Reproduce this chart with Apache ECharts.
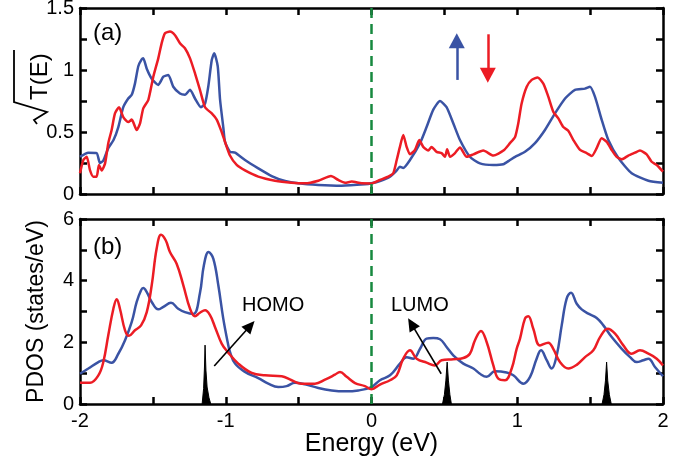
<!DOCTYPE html>
<html>
<head>
<meta charset="utf-8">
<script src="https://cdn.jsdelivr.net/npm/echarts@6/dist/echarts.min.js"></script>
<style>
  html, body { margin: 0; padding: 0; background: #fff; }
  #chart { width: 690px; height: 459px; }
</style>
</head>
<body>
<div id="chart"></div>
<script>
// (a) sqrt T(E), spin up (blue) / spin down (red)
const topBlue = [
  [-2.0,0.30],[-1.943,0.333],[-1.886,0.33],[-1.863,0.25],[-1.84,0.27],[-1.806,0.37],[-1.77,0.435],
  [-1.737,0.54],[-1.703,0.70],[-1.669,0.77],[-1.645,0.80],[-1.623,0.89],[-1.60,1.03],[-1.577,1.085],
  [-1.566,1.094],[-1.542,1.01],[-1.508,0.93],[-1.463,0.88],[-1.428,0.946],[-1.394,0.96],[-1.36,0.865],
  [-1.314,0.81],[-1.28,0.80],[-1.245,0.84],[-1.211,0.77],[-1.17,0.70],[-1.142,0.73],[-1.12,0.865],
  [-1.096,1.08],[-1.079,1.135],[-1.055,1.03],[-1.039,0.76],[-1.017,0.54],[-1.005,0.42],[-0.971,0.34],
  [-0.936,0.333],[-0.868,0.274],[-0.777,0.207],[-0.685,0.145],[-0.593,0.105],[-0.502,0.086],
  [-0.365,0.073],[-0.205,0.067],[-0.045,0.078],[0.0,0.086],[0.058,0.105],[0.127,0.14],[0.173,0.19],
  [0.195,0.22],[0.218,0.21],[0.264,0.274],[0.333,0.41],[0.378,0.54],[0.424,0.68],[0.47,0.75],
  [0.515,0.70],[0.561,0.57],[0.607,0.435],[0.675,0.30],[0.744,0.247],[0.835,0.234],[0.904,0.24],
  [0.95,0.274],[0.985,0.30],[1.053,0.34],[1.122,0.41],[1.19,0.516],[1.259,0.65],[1.328,0.77],
  [1.396,0.84],[1.465,0.85],[1.499,0.865],[1.533,0.785],[1.579,0.60],[1.625,0.435],[1.694,0.29],
  [1.785,0.167],[1.90,0.107],[2.0,0.09]
];
const topRed = [
  [-2.0,0.167],[-1.977,0.274],[-1.954,0.30],[-1.931,0.19],[-1.909,0.14],[-1.886,0.14],[-1.87,0.234],
  [-1.851,0.19],[-1.828,0.247],[-1.806,0.41],[-1.783,0.516],[-1.76,0.65],[-1.732,0.70],[-1.703,0.62],
  [-1.669,0.58],[-1.645,0.60],[-1.611,0.516],[-1.588,0.57],[-1.566,0.69],[-1.531,0.76],[-1.497,0.946],
  [-1.463,1.094],[-1.44,1.215],[-1.417,1.296],[-1.383,1.31],[-1.348,1.28],[-1.314,1.215],[-1.28,1.175],
  [-1.245,1.094],[-1.211,0.973],[-1.177,0.84],[-1.142,0.70],[-1.096,0.65],[-1.062,0.60],[-1.028,0.50],
  [-1.005,0.42],[-0.971,0.31],[-0.925,0.234],[-0.868,0.19],[-0.777,0.14],[-0.662,0.107],[-0.548,0.091],
  [-0.456,0.086],[-0.365,0.107],[-0.278,0.145],[-0.228,0.113],[-0.182,0.091],[-0.136,0.10],
  [-0.067,0.086],[0.0,0.085],[0.058,0.113],[0.115,0.14],[0.149,0.167],[0.173,0.274],[0.195,0.38],
  [0.218,0.476],[0.241,0.38],[0.264,0.32],[0.298,0.355],[0.328,0.435],[0.355,0.38],[0.389,0.35],
  [0.412,0.38],[0.447,0.34],[0.481,0.33],[0.504,0.30],[0.519,0.36],[0.539,0.30],[0.573,0.33],
  [0.607,0.376],[0.653,0.30],[0.699,0.32],[0.767,0.35],[0.836,0.31],[0.905,0.35],[0.95,0.41],
  [0.985,0.46],[1.007,0.57],[1.03,0.73],[1.065,0.865],[1.099,0.92],[1.14,0.94],[1.179,0.89],
  [1.213,0.785],[1.247,0.664],[1.282,0.61],[1.316,0.54],[1.35,0.51],[1.385,0.435],[1.431,0.355],
  [1.476,0.33],[1.511,0.306],[1.545,0.37],[1.579,0.45],[1.614,0.42],[1.648,0.355],[1.682,0.30],
  [1.717,0.28],[1.762,0.31],[1.808,0.333],[1.842,0.35],[1.888,0.32],[1.922,0.26],[1.957,0.234],[2.0,0.18]
];

// (b) PDOS
const botBlue = [
  [-2.0,0.98],[-1.943,1.15],[-1.874,1.36],[-1.84,1.42],[-1.783,1.34],[-1.737,1.63],[-1.691,2.07],
  [-1.645,2.66],[-1.611,3.31],[-1.581,3.69],[-1.566,3.76],[-1.542,3.63],[-1.508,3.31],[-1.463,3.07],
  [-1.428,3.15],[-1.376,3.28],[-1.326,3.09],[-1.28,2.98],[-1.222,2.92],[-1.177,3.6],[-1.15,4.5],
  [-1.118,4.93],[-1.085,4.71],[-1.051,3.85],[-1.017,2.77],[-0.987,2.01],[-0.971,1.69],[-0.936,1.31],
  [-0.868,1.04],[-0.777,0.84],[-0.708,0.66],[-0.64,0.55],[-0.582,0.58],[-0.525,0.69],[-0.456,0.64],
  [-0.365,0.52],[-0.273,0.44],[-0.182,0.41],[-0.09,0.44],[0.0,0.55],[0.058,0.77],[0.127,0.93],
  [0.195,1.31],[0.241,1.52],[0.287,1.47],[0.333,1.79],[0.378,2.12],[0.424,2.14],[0.47,2.10],
  [0.515,1.85],[0.561,1.58],[0.63,1.31],[0.699,1.15],[0.744,0.98],[0.79,0.88],[0.847,1.06],
  [0.927,1.02],[0.973,0.93],[1.042,0.66],[1.088,0.88],[1.133,1.47],[1.163,1.74],[1.202,1.42],
  [1.236,1.15],[1.271,1.58],[1.305,2.55],[1.339,3.42],[1.369,3.61],[1.408,3.25],[1.442,3.07],
  [1.488,2.93],[1.545,2.79],[1.591,2.55],[1.648,2.17],[1.717,1.79],[1.774,1.52],[1.82,1.36],
  [1.865,1.42],[1.9,1.47],[1.945,1.20],[2.0,0.90]
];
const botRed = [
  [-2.0,0.69],[-1.931,0.69],[-1.874,0.93],[-1.84,1.36],[-1.806,2.23],[-1.771,3.09],[-1.748,3.40],
  [-1.726,3.09],[-1.691,2.39],[-1.664,2.21],[-1.623,2.39],[-1.581,2.55],[-1.542,2.98],[-1.508,3.85],
  [-1.474,5.04],[-1.444,5.49],[-1.412,5.31],[-1.383,4.93],[-1.337,4.55],[-1.291,3.85],[-1.245,3.09],
  [-1.211,2.85],[-1.177,2.96],[-1.142,3.04],[-1.108,2.88],[-1.074,2.50],[-1.028,1.96],[-0.987,1.69],
  [-0.914,1.31],[-0.822,1.01],[-0.731,0.93],[-0.616,0.90],[-0.548,0.77],[-0.479,0.66],[-0.388,0.66],
  [-0.319,0.79],[-0.251,0.95],[-0.216,1.04],[-0.17,0.88],[-0.113,0.68],[-0.045,0.58],[0.0,0.48],
  [0.058,0.63],[0.127,0.77],[0.173,0.93],[0.218,1.47],[0.264,1.74],[0.31,1.47],[0.378,1.34],
  [0.435,1.25],[0.481,1.42],[0.561,1.45],[0.63,1.49],[0.675,1.63],[0.71,2.07],[0.751,2.37],
  [0.79,2.01],[0.836,1.25],[0.87,0.82],[0.916,0.77],[0.962,1.15],[0.996,1.79],[1.019,2.12],
  [1.053,2.77],[1.076,2.85],[1.11,2.44],[1.156,1.90],[1.213,1.99],[1.247,1.79],[1.293,1.36],
  [1.35,1.15],[1.408,1.27],[1.465,1.52],[1.522,1.74],[1.568,2.17],[1.621,2.44],[1.671,2.28],
  [1.728,1.90],[1.785,1.63],[1.842,1.74],[1.9,1.63],[1.957,1.47],[2.0,1.25]
];

// black molecular level peaks
const peakHomo = [[-1.162,0],[-1.152,0.5],[-1.146,1.2],[-1.142,1.91],[-1.136,1.1],[-1.128,0.55],[-1.115,0.2],[-1.103,0]];
const peakLumo = [[0.487,0],[0.500,0.3],[0.510,0.75],[0.519,1.36],[0.528,0.75],[0.538,0.3],[0.548,0]];
const peakHigh = [[1.582,0],[1.595,0.3],[1.605,0.75],[1.613,1.36],[1.621,0.75],[1.632,0.3],[1.645,0]];

const xTicks = [-2, -1, 0, 1, 2];

const BLUE = '#3a53a4';
const RED = '#ec1c24';
const GREEN = '#17893f';
const FONT = 'Liberation Sans, Arial, Helvetica, sans-serif';

const isMult = (v, m) => Math.abs(v / m - Math.round(v / m)) < 1e-6;

function xAxisOf(grid, pos, showLabel, name) {
  return {
    type: 'value', gridIndex: grid, position: pos, min: -2, max: 2, interval: 0.5,
    axisLine: { show: true, onZero: false, lineStyle: { color: '#000', width: 2.5 } },
    axisTick: { show: true, inside: true, length: 7, lineStyle: { color: '#000', width: 2.5 } },
    splitLine: { show: false },
    axisLabel: {
      show: showLabel, color: '#000', fontSize: 20, fontFamily: FONT, margin: 7,
      formatter: v => (xTicks.some(t => Math.abs(t - v) < 1e-6) ? String(Math.round(v)) : '')
    },
    name: name || '', nameLocation: 'middle', nameGap: 22,
    nameTextStyle: { color: '#000', fontSize: 25, fontFamily: FONT }
  };
}

function yAxisOf(grid, pos, max, step, labelStep, name) {
  return {
    type: 'value', gridIndex: grid, position: pos, min: 0, max: max, interval: step,
    axisLine: { show: true, onZero: false, lineStyle: { color: '#000', width: 2.5 } },
    axisTick: { show: true, inside: true, length: 7, lineStyle: { color: '#000', width: 2.5 } },
    splitLine: { show: false },
    axisLabel: {
      show: pos === 'left', color: '#000', fontSize: 20, fontFamily: FONT, margin: 6,
      formatter: v => (isMult(v, labelStep) ? String(Math.round(v * 10) / 10) : '')
    },
    name: name || '', nameLocation: 'middle', nameGap: 32,
    nameTextStyle: { color: '#000', fontSize: 23, fontFamily: FONT }
  };
}

function curve(data, color, xi, yi, smooth, markLine) {
  const s = {
    type: 'line', data: data, xAxisIndex: xi, yAxisIndex: yi,
    showSymbol: false, symbol: 'none', smooth: smooth,
    lineStyle: { color: color, width: 2.5 }, itemStyle: { color: color },
    silent: true
  };
  if (markLine) s.markLine = markLine;
  return s;
}

function peak(data) {
  return {
    type: 'line', data: data, xAxisIndex: 2, yAxisIndex: 2, showSymbol: false, symbol: 'none',
    lineStyle: { color: '#000', width: 1 }, areaStyle: { color: '#000', opacity: 1 }, silent: true, z: 3
  };
}

const zeroLine = {
  xAxis: 0, symbol: 'none',
  lineStyle: { color: GREEN, width: 2.5, type: [10, 6] }
};

function arrow(from, to, color, width, size) {
  return [
    { coord: from, symbol: 'none', lineStyle: { color: color, width: width, type: 'solid' } },
    { coord: to, symbol: 'triangle', symbolSize: size }
  ];
}

const markBase = { silent: true, animation: false, symbol: ['none', 'none'], label: { show: false } };

// sqrt(T(E)) axis title: rotated text with a drawn radical and overline
const sqrtTitle = {
  type: 'group', x: 47, y: 131, rotation: Math.PI / 2, silent: true,
  children: [
    { type: 'polyline', shape: { points: [[7, -10], [11, -13], [19, 0], [29, -33], [81, -33]] },
      style: { stroke: '#000', lineWidth: 1.8, fill: null } },
    { type: 'text', x: 31, y: 5,
      style: { text: 'T(E)', fontSize: 24, fontFamily: FONT, fill: '#000', verticalAlign: 'bottom', textVerticalAlign: 'bottom' } }
  ]
};

const chart = echarts.init(document.getElementById('chart'), null, { renderer: 'canvas' });

chart.setOption({
  animation: false,
  textStyle: { fontFamily: FONT },
  grid: [
    { left: 80, width: 583, top: 8, height: 186, outerBoundsMode: 'none' },
    { left: 80, width: 583, top: 219, height: 185, outerBoundsMode: 'none' }
  ],
  xAxis: [
    xAxisOf(0, 'bottom', false),
    xAxisOf(0, 'top', false),
    xAxisOf(1, 'bottom', true, 'Energy (eV)'),
    xAxisOf(1, 'top', false)
  ],
  yAxis: [
    yAxisOf(0, 'left', 1.5, 0.25, 0.5),
    yAxisOf(0, 'right', 1.5, 0.25, 0.5),
    yAxisOf(1, 'left', 6, 1, 2, 'PDOS (states/eV)'),
    yAxisOf(1, 'right', 6, 1, 2)
  ],
  graphic: [
    sqrtTitle,
    { type: 'text', left: 93, top: 21, style: { text: '(a)', fontSize: 24, fontFamily: FONT, fill: '#000' } },
    { type: 'text', left: 93, top: 235, style: { text: '(b)', fontSize: 24, fontFamily: FONT, fill: '#000' } },
    { type: 'text', left: 242, top: 295, style: { text: 'HOMO', fontSize: 20, fontFamily: FONT, fill: '#000' } },
    { type: 'text', left: 391, top: 295, style: { text: 'LUMO', fontSize: 20, fontFamily: FONT, fill: '#000' } }
  ],
  series: [
    curve(topBlue, BLUE, 0, 0, 0.2, Object.assign({}, markBase, {
      data: [zeroLine, arrow([0.585, 0.92], [0.585, 1.235], BLUE, 2.5, [16, 15])]
    })),
    curve(topRed, RED, 0, 0, 0.2, Object.assign({}, markBase, {
      data: [arrow([0.798, 1.288], [0.798, 0.958], RED, 2.5, [16, 15])]
    })),
    curve(botBlue, BLUE, 2, 2, 0.4, Object.assign({}, markBase, {
      data: [zeroLine]
    })),
    curve(botRed, RED, 2, 2, 0.4, Object.assign({}, markBase, {
      data: [
        arrow([-1.079, 1.23], [-0.832, 2.537], '#000', 1.6, [12, 13]),
        arrow([0.478, 0.98], [0.274, 2.60], '#000', 1.6, [12, 13])
      ]
    })),
    peak(peakHomo),
    peak(peakLumo),
    peak(peakHigh)
  ]
});
</script>
</body>
</html>
